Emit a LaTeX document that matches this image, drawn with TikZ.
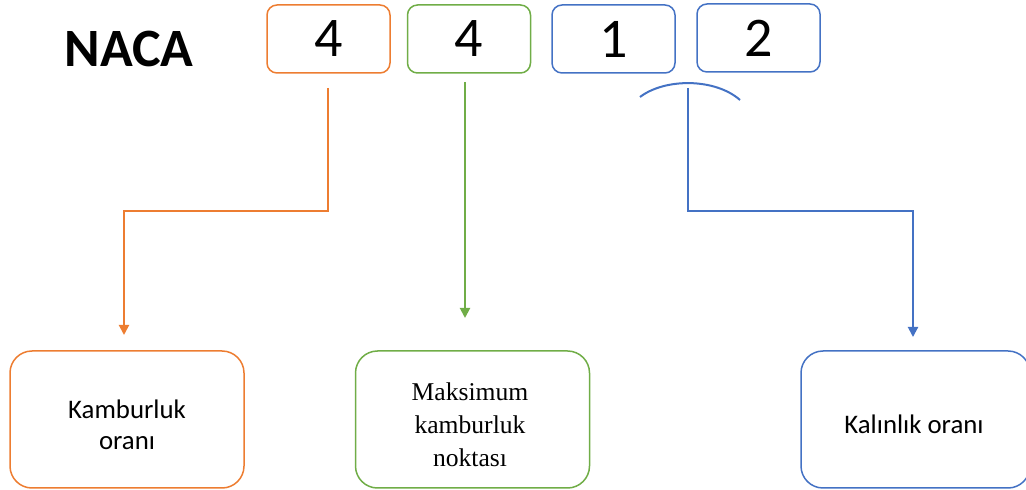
\documentclass[tikz,border=0pt]{standalone}
\usepackage{fontspec}
\setmainfont{Carlito}
\newfontfamily\serifx{Liberation Serif}
\usetikzlibrary{arrows.meta}
\definecolor{orng}{HTML}{ED7D31}
\definecolor{grn}{HTML}{70AD47}
\definecolor{blu}{HTML}{4472C4}
\begin{document}
\begin{tikzpicture}[x=0.5pt,y=-0.5pt,
  digit/.style={draw=#1, line width=0.75pt, rounded corners=5pt, minimum width=61.5pt, minimum height=34pt, inner sep=0pt, font=\fontsize{28}{30}\selectfont},
  lblbox/.style={draw=#1, line width=0.75pt, rounded corners=11pt, minimum width=117pt, minimum height=68.5pt, inner sep=0pt},
  sanstext/.style={align=center, font=\fontsize{13.4}{15.5}\selectfont},
  seriftext/.style={align=center, font=\serifx\fontsize{12.8}{16.5}\selectfont},
  conn/.style={draw=#1, line width=1pt, -{Triangle[width=5pt,length=5pt]}}]
\useasboundingbox (0,0) rectangle (1026,490);
\clip (0,0) rectangle (1026,490);

\node[font=\bfseries\fontsize{27}{30}\selectfont] (naca) at (129,49) {NACA};
\node[digit=orng] (d1) at (328.5,39) {4};
\node[digit=grn] (d2) at (469,39) {4};
\node[digit=blu] (d3) at (613.5,39) {1};
\node[digit=blu] (d4) at (758.5,38) {2};

\draw[blu, line width=1pt] (640,97) .. controls (665,78) and (715,78) .. (740,100);

\node[lblbox=orng] (b1) at (127,419.5) {};
\node[lblbox=grn] (b2) at (472.5,419.5) {};
\node[lblbox=blu, minimum width=114.5pt] (b3) at (915.5,419.5) {};
\node[sanstext] (t1) at (127,425) {Kamburluk\\oranı};
\node[seriftext] (t2) at (470,425) {Maksimum\\kamburluk\\noktası};
\node[sanstext] (t3) at (914,424) {Kalınlık oranı};

\coordinate (os) at (328,88);
\coordinate (oj) at (328,211);
\coordinate (oe) at (124,335);
\coordinate (gs) at (465,82);
\coordinate (ge) at (465,318);
\coordinate (bs) at (688,88);
\coordinate (bj) at (688,211);
\coordinate (be) at (913,337);

\draw[conn=orng] (os) -- (oj) -| (oe);
\draw[conn=grn] (gs) -- (ge);
\draw[conn=blu] (bs) -- (bj) -| (be);
\end{tikzpicture}
\end{document}
